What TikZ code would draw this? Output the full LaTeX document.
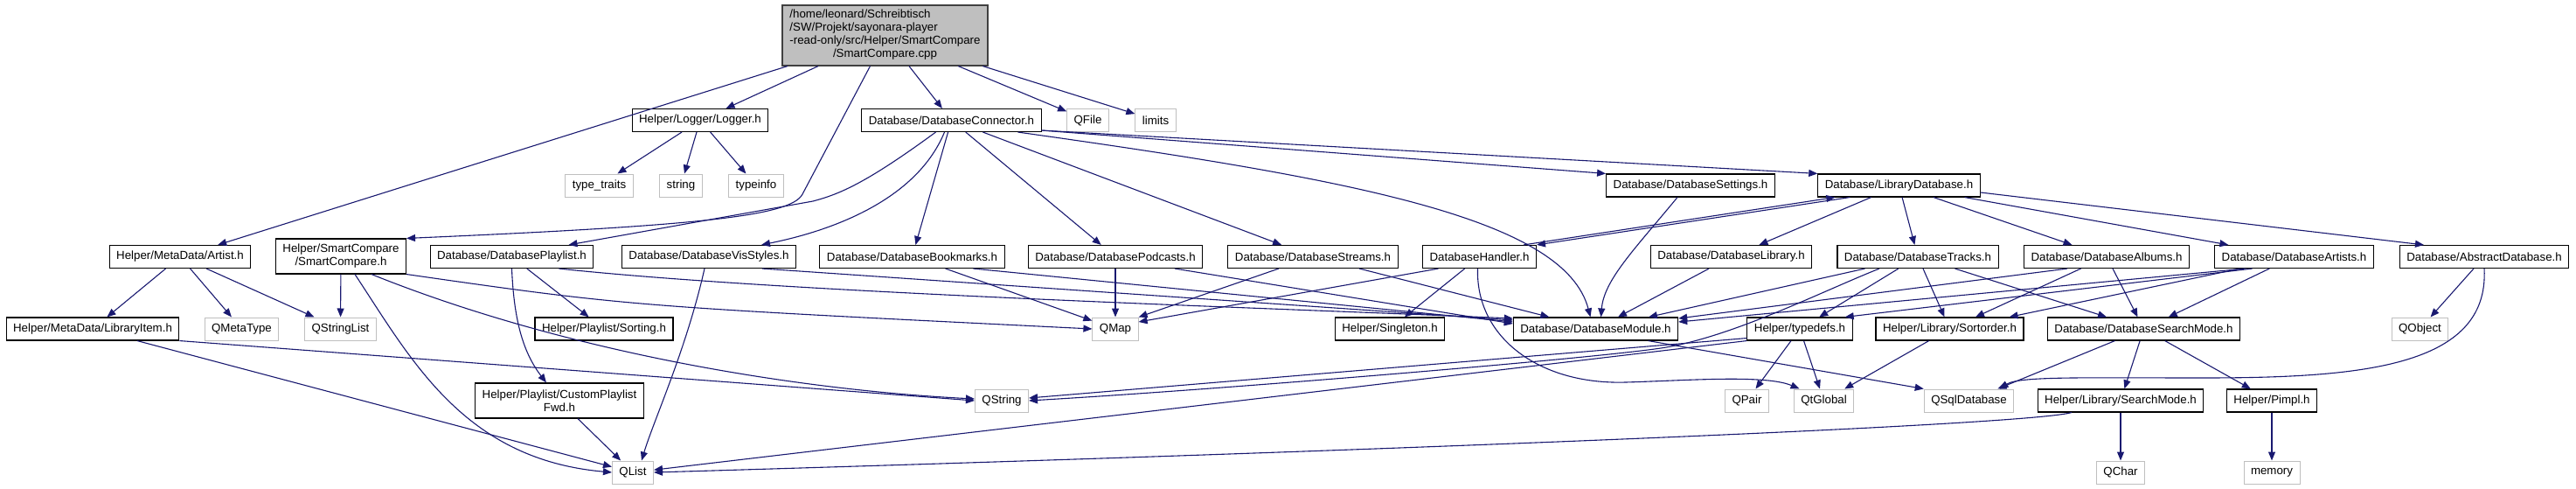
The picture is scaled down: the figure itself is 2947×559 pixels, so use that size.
\documentclass[tikz,border=0pt]{standalone}
\usepackage{fontspec}
\setmainfont{Liberation Sans}
\usepackage{xcolor}
\definecolor{edgeblue}{RGB}{25, 25, 112}
\definecolor{extgray}{RGB}{191, 191, 191}
\definecolor{mainborder}{RGB}{64, 64, 64}
\usepackage{tikz}
\usetikzlibrary{
    arrows.meta
}
\newcommand{\graphfont}{\fontsize{13.3}{15}\selectfont}

\begin{document}
\begin{tikzpicture}[
    x=1pt, y=-1pt,
    >={Triangle[length=10pt, width=8pt]},
    hfile/.style={draw=black, line width=1.1pt, fill=white, inner xsep=8pt, inner ysep=4pt, minimum height=26pt, font=\graphfont},
    twoline/.style={hfile, align=center, minimum height=40pt},
    extfile/.style={hfile, draw=extgray, line width=1pt},
    srcfile/.style={hfile, fill=extgray, draw=mainborder, inner xsep=8.5pt, inner ysep=4.5pt},
    dep/.style={draw=edgeblue, line width=1.1pt, ->}
]
\useasboundingbox (0,0) rectangle (2947,559);

% ==================== ROW 1: SOURCE FILE ====================
\node[srcfile] (main_cpp) at (1012.5, 40.5) {\begin{tabular}{@{}l@{}}
    /home/leonard/Schreibtisch\\
    /SW/Projekt/sayonara-player\\
    -read-only/src/Helper/SmartCompare\\
    \multicolumn{1}{@{}c@{}}{/SmartCompare.cpp}
\end{tabular}};

% ==================== ROW 2 ====================
\node[hfile] (logger_h) at (801, 137.5) {Helper/Logger/Logger.h};
\node[hfile] (db_connector) at (1088.5, 137.5) {Database/DatabaseConnector.h};
\node[extfile] (qfile) at (1244.5, 137.5) {QFile};
\node[extfile] (limits) at (1322, 137.5) {limits};

% ==================== ROW 3 ====================
\node[extfile] (type_traits) at (685.5, 212) {type\_traits};
\node[extfile] (string_h) at (779, 212) {string};
\node[extfile] (typeinfo) at (865, 212) {typeinfo};
\node[hfile] (db_settings) at (1934, 212) {Database/DatabaseSettings.h};
\node[hfile] (lib_database) at (2172.5, 212) {Database/LibraryDatabase.h};

% ==================== ROW 4 ====================
\node[hfile] (artist_h) at (206, 293.5) {Helper/MetaData/Artist.h};
\node[twoline] (smartcmp_h) at (390, 293) {Helper/SmartCompare\\/SmartCompare.h};
\node[hfile] (db_playlist) at (585.5, 293.5) {Database/DatabasePlaylist.h};
\node[hfile] (db_visstyles) at (811, 293.5) {Database/DatabaseVisStyles.h};
\node[hfile] (db_bookmarks) at (1043.5, 293.5) {Database/DatabaseBookmarks.h};
\node[hfile] (db_podcasts) at (1276, 293.5) {Database/DatabasePodcasts.h};
\node[hfile] (db_streams) at (1502, 293.5) {Database/DatabaseStreams.h};
\node[hfile] (db_handler) at (1692.5, 293.5) {DatabaseHandler.h};
\node[hfile] (db_library) at (1980.5, 293.5) {Database/DatabaseLibrary.h};
\node[hfile] (db_tracks) at (2194, 293.5) {Database/DatabaseTracks.h};
\node[hfile] (db_albums) at (2410, 293.5) {Database/DatabaseAlbums.h};
\node[hfile] (db_artists) at (2624.5, 293.5) {Database/DatabaseArtists.h};
\node[hfile] (abstract_db) at (2842, 293.5) {Database/AbstractDatabase.h};

% ==================== ROW 5 ====================
\node[hfile] (library_item) at (106, 376) {Helper/MetaData/LibraryItem.h};
\node[extfile] (qmetatype) at (276.5, 376) {QMetaType};
\node[extfile] (qstringlist) at (389.5, 376) {QStringList};
\node[hfile] (sorting_h) at (691, 376) {Helper/Playlist/Sorting.h};
\node[extfile] (qmap) at (1276, 376) {QMap};
\node[hfile] (singleton_h) at (1590, 376) {Helper/Singleton.h};
\node[hfile] (db_module) at (1825.5, 376) {Database/DatabaseModule.h};
\node[hfile] (typedefs_h) at (2059, 376) {Helper/typedefs.h};
\node[hfile] (sortorder_h) at (2230.5, 376) {Helper/Library/Sortorder.h};
\node[hfile] (search_mode) at (2452.5, 376) {Database/DatabaseSearchMode.h};
\node[extfile] (qobject) at (2768.5, 376) {QObject};

% ==================== ROW 6 ====================
\node[twoline] (custom_fwd) at (640, 458) {Helper/Playlist/CustomPlaylist\\Fwd.h};
\node[extfile] (qstring) at (1146, 458) {QString};
\node[extfile] (qpair) at (1998.5, 458) {QPair};
\node[extfile] (qtglobal) at (2086.5, 458) {QtGlobal};
\node[extfile] (qsqldatabase) at (2252.5, 458) {QSqlDatabase};
\node[hfile] (lib_searchmode) at (2426, 458) {Helper/Library/SearchMode.h};
\node[hfile] (pimpl_h) at (2599, 458) {Helper/Pimpl.h};

% ==================== ROW 7 ====================
\node[extfile] (qlist) at (724, 540) {QList};
\node[extfile] (qchar) at (2426, 540) {QChar};
\node[extfile] (memory) at (2599, 540) {memory};

% ==================== EDGES: SOURCE FILE ====================
\draw[dep] (main_cpp) -- (artist_h);
\draw[dep] (main_cpp) -- (logger_h);
\draw[dep] ([xshift=-17pt]main_cpp.south) -- (918,222) .. controls (905,247) and (800,258) .. (smartcmp_h.north east);
\draw[dep] (main_cpp) -- (db_connector);
\draw[dep] (main_cpp) -- (qfile);
\draw[dep] (main_cpp) -- (limits);

\draw[dep] (logger_h) -- (type_traits);
\draw[dep] (logger_h) -- (string_h);
\draw[dep] (logger_h) -- (typeinfo);

% ==================== EDGES: CONNECTOR ====================
\draw[dep] ([xshift=-18pt]db_connector.south) .. controls (990,210) and (960,222) .. (930,230) -- ([xshift=65pt]db_playlist.north);
\draw[dep] ([xshift=-8pt]db_connector.south) .. controls (1050,225) and (960,262) .. ([xshift=60pt]db_visstyles.north);
\draw[dep] (db_connector) -- (db_bookmarks);
\draw[dep] (db_connector) -- (db_podcasts);
\draw[dep] (db_connector) -- (db_streams);
\draw[dep] ([xshift=76pt]db_connector.south) .. controls (1550,205) and (1790,250) .. ([xshift=-6pt]db_module.north);
\draw[dep] ([yshift=2pt]db_connector.south east) -- (db_settings.north west);
\draw[dep] ([yshift=2pt]db_connector.south east) -- (lib_database.north west);

\draw[dep] ([xshift=-15pt]db_settings.south) .. controls (1870,285) and (1835,320) .. ([xshift=6pt]db_module.north);

% ==================== EDGES: LIBRARY DATABASE ====================
\draw[dep] ([xshift=-15pt]db_handler.north east) -- ([xshift=20pt]lib_database.south west);
\draw[dep] ([xshift=37pt]lib_database.south west) -- (db_handler.north east);
\draw[dep] (lib_database) -- (db_library);
\draw[dep] (lib_database) -- (db_tracks);
\draw[dep] (lib_database) -- (db_albums);
\draw[dep] (lib_database) -- (db_artists);
\draw[dep] ([yshift=-8pt]lib_database.east) -- ([xshift=-69pt]abstract_db.north);

% ==================== EDGES: ROW 4 (LEFT) ====================
\draw[dep] (artist_h) -- (library_item);
\draw[dep] (artist_h) -- (qmetatype);
\draw[dep] (artist_h) -- (qstringlist);

\draw[dep] (smartcmp_h) -- (qstringlist);
\draw[dep] ([xshift=16pt]smartcmp_h.south) .. controls (470,410) and (530,525) .. (qlist.west);
\draw[dep] ([xshift=35pt]smartcmp_h.south) .. controls (640,400) and (900,445) .. ([yshift=2pt]qstring.west);
\draw[dep] (smartcmp_h.south east) .. controls (720,350) .. (qmap.west);

\draw[dep] (library_item) -- (qlist);
\draw[dep] (library_item.south east) -- (qstring.west);

\draw[dep] (db_playlist) -- (sorting_h);
\draw[dep] (db_playlist.south) .. controls (588,370) and (600,405) .. ([xshift=-15pt]custom_fwd.north);
\draw[dep] ([xshift=-40pt]db_playlist.south east) .. controls (900,335) and (1450,352) .. ([yshift=12pt]db_module.west);
\draw[dep] (custom_fwd) -- (qlist);

\draw[dep] ([xshift=-5pt]db_visstyles.south) .. controls (785,400) and (748,480) .. ([xshift=10pt]qlist.north);
\draw[dep] ([xshift=61pt]db_visstyles.south) -- ([yshift=10pt]db_module.west);

\draw[dep] (db_bookmarks) -- (qmap);
\draw[dep] ([xshift=70pt]db_bookmarks.south) -- ([yshift=8pt]db_module.west);
\draw[dep] (db_podcasts) -- (qmap);
\draw[dep] ([xshift=68pt]db_podcasts.south) -- ([yshift=6pt]db_module.west);
\draw[dep] (db_streams) -- (qmap.north east);
\draw[dep] (db_streams) -- (db_module);

% ==================== EDGES: ROW 4 (RIGHT) ====================
\draw[dep] ([xshift=-47pt]db_handler.south) -- ([yshift=8pt]qmap.east);
\draw[dep] (db_handler) -- (singleton_h);
\draw[dep] ([xshift=-2pt]db_handler.south) .. controls (1688,385) and (1760,440) .. (1860,437) .. controls (1930,435) and (2020,428) .. ([xshift=-28pt]qtglobal.north);

\draw[dep] (db_library) -- (db_module);

\draw[dep] (db_tracks) -- (db_module);
\draw[dep] (db_tracks) -- (typedefs_h);
\draw[dep] (db_tracks) -- (sortorder_h);
\draw[dep] (db_tracks) -- (search_mode);
\draw[dep] ([xshift=-44pt]db_tracks.south) .. controls (2080,335) and (1980,386) .. (1900,398) .. controls (1820,410) and (1400,445) .. (qstring.east);

\draw[dep] ([xshift=-45pt]db_albums.south) -- ([yshift=12pt]db_module.east);
\draw[dep] (db_albums) -- (sortorder_h);
\draw[dep] (db_albums) -- (search_mode);

\draw[dep] ([xshift=-56pt]db_artists.south) -- ([yshift=8pt]db_module.east);
\draw[dep] ([xshift=-48pt]db_artists.south) -- ([xshift=-9pt]typedefs_h.north east);
\draw[dep] ([xshift=-62pt]db_artists.south) -- ([xshift=-17pt]sortorder_h.north east);
\draw[dep] (db_artists) -- (search_mode);

\draw[dep] (abstract_db) -- (qobject);
\draw[dep] (abstract_db.south) .. controls (2848,420) and (2700,432) .. (2520,432) .. controls (2380,432) and (2310,430) .. ([xshift=35pt]qsqldatabase.north);

% ==================== EDGES: ROWS 5-6 ====================
\draw[dep] ([xshift=60pt]db_module.south) -- (qsqldatabase.north west);

\draw[dep] ([yshift=3pt]typedefs_h.south west) -- ([yshift=3pt]qstring.east);
\draw[dep] (typedefs_h.south west) -- (qlist);
\draw[dep] (typedefs_h) -- (qpair);
\draw[dep] (typedefs_h) -- (qtglobal);
\draw[dep] (sortorder_h) -- (qtglobal);

\draw[dep] (search_mode) -- (qsqldatabase);
\draw[dep] (search_mode) -- (lib_searchmode);
\draw[dep] (search_mode) -- (pimpl_h);

\draw[dep] (lib_searchmode) -- (qchar);
\draw[dep] ([xshift=-56pt]lib_searchmode.south) .. controls (2320,486) and (1600,515) .. (qlist.east);
\draw[dep] (pimpl_h) -- (memory);

\end{tikzpicture}
\end{document}
